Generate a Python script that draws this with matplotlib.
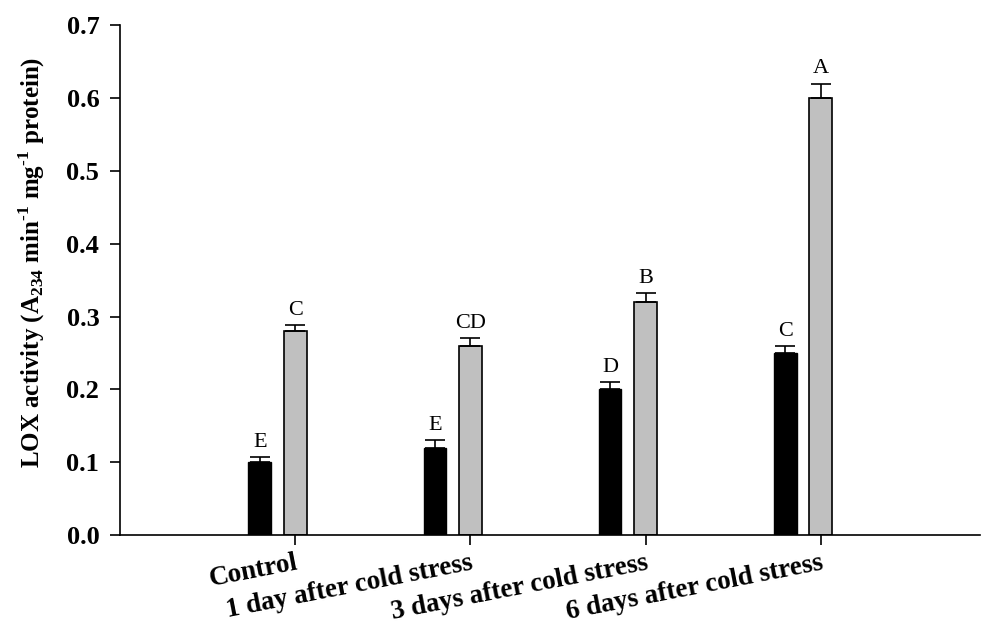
import numpy as np
import matplotlib.pyplot as plt

# data
groups = ['Control', '1 day after cold stress', '3 days after cold stress', '6 days after cold stress']
black_vals = [0.10, 0.12, 0.20, 0.25]
black_err = [0.007, 0.010, 0.010, 0.010]
gray_vals = [0.28, 0.26, 0.32, 0.60]
gray_err = [0.008, 0.010, 0.012, 0.020]
black_letters = ['E', 'E', 'D', 'C']
gray_letters = ['C', 'CD', 'B', 'A']

plt.rcParams['font.family'] = ['Liberation Serif', 'DejaVu Serif']
plt.rcParams['mathtext.fontset'] = 'custom'
plt.rcParams['mathtext.rm'] = 'Liberation Serif:bold'
plt.rcParams['mathtext.bf'] = 'Liberation Serif:bold'

fig = plt.figure(figsize=(9.85, 6.31), dpi=100)
ax = fig.add_axes([0.122, 0.152, 0.873, 0.808])

x = np.arange(len(groups))
w = 0.13
off = -0.203

ax.bar(x + off, black_vals, w, color='black', edgecolor='black', linewidth=1,
       yerr=[np.zeros(4), black_err], capsize=7, error_kw=dict(elinewidth=1.2, capthick=1.2, ecolor='black'))
ax.bar(x, gray_vals, w, color='#c0c0c0', edgecolor='black', linewidth=1.2,
       yerr=[np.zeros(4), gray_err], capsize=7, error_kw=dict(elinewidth=1.2, capthick=1.2, ecolor='black'))

for i in range(len(groups)):
    ax.text(x[i] + off, black_vals[i] + black_err[i] + 0.007, black_letters[i],
            ha='center', va='bottom', fontsize=16)
    ax.text(x[i], gray_vals[i] + gray_err[i] + 0.007, gray_letters[i],
            ha='center', va='bottom', fontsize=16)

ax.set_xlim(-1.0, 3.91)
ax.set_ylim(0, 0.7)
ax.set_yticks(np.arange(0, 0.71, 0.1))
ax.set_yticklabels(['%.1f' % v for v in np.arange(0, 0.71, 0.1)], fontsize=19, fontweight='bold')
ax.set_xticks(x)
ax.set_xticklabels(groups, rotation=11, ha='right', va='top', rotation_mode='anchor',
                   fontsize=19.5, fontweight='bold')
ax.tick_params(axis='both', direction='out', length=7, width=1.2)
ax.tick_params(axis='x', pad=4)
ax.tick_params(axis='y', pad=8)

for s in ['top', 'right']:
    ax.spines[s].set_visible(False)
for s in ['left', 'bottom']:
    ax.spines[s].set_linewidth(1.2)

ax.set_ylabel(r'LOX activity (A$_{234}$ min$^{\text{-}1}$ mg$^{\text{-}1}$ protein)',
              fontsize=18, fontweight='bold')
ax.yaxis.set_label_coords(-0.085, 0.535)

fig.savefig('out.png', dpi=100)
